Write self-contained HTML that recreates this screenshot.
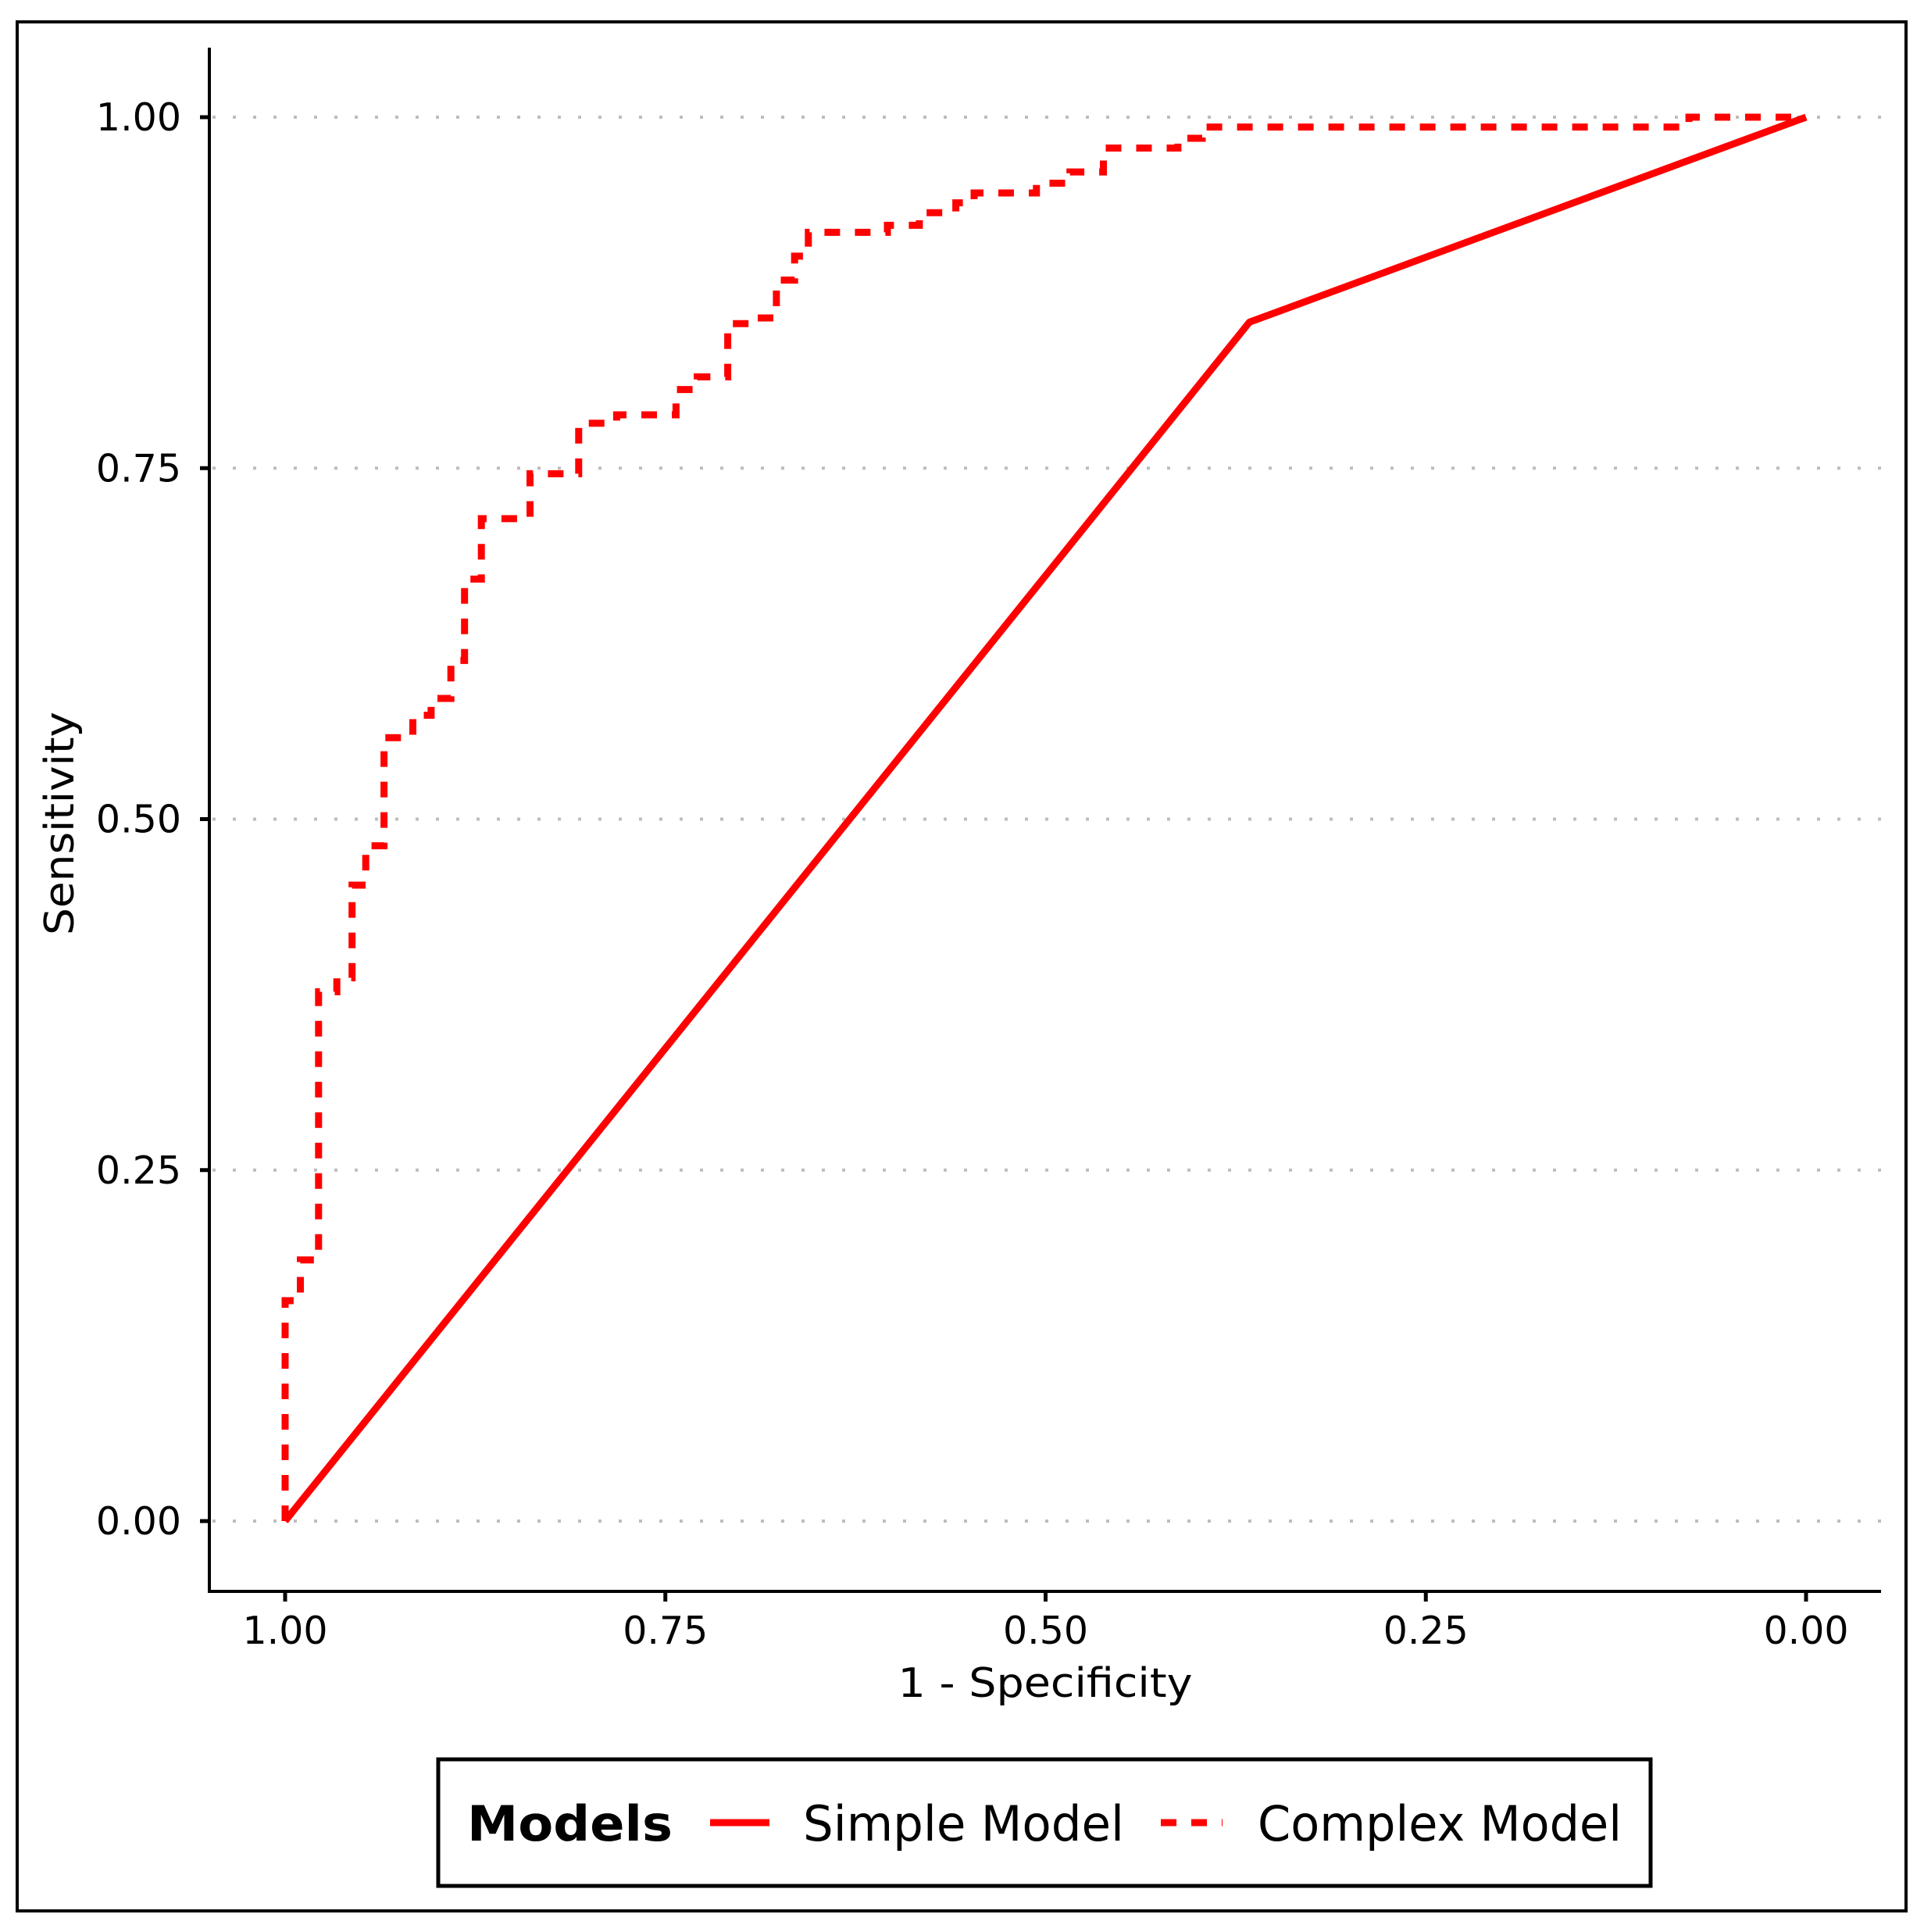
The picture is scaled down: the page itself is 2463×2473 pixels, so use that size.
<!DOCTYPE html>
<html><head><meta charset="utf-8"><style>
html,body{margin:0;padding:0;background:#fff;}
svg{display:block;}
text{font-family:"DejaVu Sans","Liberation Sans",sans-serif;fill:#000;}
</style></head><body>
<svg id="chart" width="2463" height="2473" viewBox="0 0 2463 2473" xmlns="http://www.w3.org/2000/svg">
<rect x="22" y="28" width="2418" height="2418" fill="#fff" stroke="#000" stroke-width="4"/>
<g id="grid"></g>
<g id="series"></g>
<line x1="268" y1="61" x2="268" y2="2039" stroke="#000" stroke-width="4"/>
<line x1="266" y1="2037" x2="2408" y2="2037" stroke="#000" stroke-width="4"/>
<g id="axes"></g>
<text x="1338" y="2172" font-size="52" text-anchor="middle" textLength="377" lengthAdjust="spacingAndGlyphs">1 - Specificity</text>
<text transform="translate(94,1054) rotate(-90)" font-size="52" text-anchor="middle" textLength="286" lengthAdjust="spacingAndGlyphs">Sensitivity</text>
<g>
<rect x="561" y="2252" width="1552" height="162" fill="#fff" stroke="#000" stroke-width="5"/>
<text x="598" y="2356" font-size="62" font-weight="bold" textLength="263" lengthAdjust="spacingAndGlyphs">Models</text>
<line x1="909" y1="2333" x2="985" y2="2333" stroke="#ff0000" stroke-width="9"/>
<text x="1028" y="2356" font-size="62" textLength="411" lengthAdjust="spacingAndGlyphs">Simple Model</text>
<line x1="1486" y1="2333" x2="1565" y2="2333" stroke="#ff0000" stroke-width="9" stroke-dasharray="20 19"/>
<text x="1610" y="2356" font-size="62" textLength="466" lengthAdjust="spacingAndGlyphs">Complex Model</text>
</g>
</svg>
<script>
const yTicks = [0, 0.25, 0.5, 0.75, 1];
const yTickLabels = ["0.00", "0.25", "0.50", "0.75", "1.00"];
const xTicks = [1, 0.75, 0.5, 0.25, 0];
const xTickLabels = ["1.00", "0.75", "0.50", "0.25", "0.00"];
const simpleSpec = [1, 0.366, 0];
const simpleSens = [0, 0.854, 1];
const complexSpec = [1,1,0.990,0.990,0.978,0.978,0.966,0.966,0.956,0.956,0.947,0.947,0.935,0.935,0.916,0.916,0.904,0.904,0.891,0.891,0.882,0.882,0.871,0.871,0.839,0.839,0.807,0.807,0.782,0.782,0.743,0.743,0.729,0.729,0.709,0.709,0.691,0.691,0.677,0.677,0.665,0.665,0.656,0.656,0.604,0.604,0.583,0.583,0.559,0.559,0.547,0.547,0.506,0.506,0.484,0.484,0.462,0.462,0.413,0.413,0.397,0.397,0.077,0.077,0];
const complexSens = [0,0.157,0.157,0.186,0.186,0.377,0.377,0.387,0.387,0.453,0.453,0.481,0.481,0.558,0.558,0.574,0.574,0.586,0.586,0.613,0.613,0.671,0.671,0.714,0.714,0.746,0.746,0.782,0.782,0.788,0.788,0.806,0.806,0.815,0.815,0.853,0.853,0.857,0.857,0.884,0.884,0.901,0.901,0.918,0.918,0.923,0.923,0.932,0.932,0.939,0.939,0.946,0.946,0.953,0.953,0.961,0.961,0.978,0.978,0.985,0.985,0.993,0.993,1,1];

const NS = "http://www.w3.org/2000/svg";
const X0 = 2312, X1 = 365;
const Y0 = 1947, Y1 = 150;
function sx(v){ return X0 + (X1 - X0) * v; }
function sy(v){ return Y0 + (Y1 - Y0) * v; }
function mk(tag, attrs, parent){
  const el = document.createElementNS(NS, tag);
  for (const k in attrs) el.setAttribute(k, attrs[k]);
  parent.appendChild(el);
  return el;
}
const grid = document.getElementById('grid');
const axes = document.getElementById('axes');
const series = document.getElementById('series');

yTicks.forEach((t, i) => {
  const g = mk('line', {x1: 272, x2: 2408, y1: sy(t), y2: sy(t), stroke: '#bdbdbd', 'stroke-width': 4, 'stroke-dasharray': '4 22'}, grid);
  
  
  const tk = mk('line', {x1: 256, x2: 268, y1: sy(t), y2: sy(t), stroke: '#000', 'stroke-width': 5}, axes);
  
  
  const lb = mk('text', {x: 232, y: sy(t) + 17, 'font-size': 49, 'text-anchor': 'end'}, axes);
  lb.textContent = yTickLabels[i];
  
  
});
xTicks.forEach((t, i) => {
  const tk = mk('line', {x1: sx(t), x2: sx(t), y1: 2037, y2: 2050, stroke: '#000', 'stroke-width': 5}, axes);
  
  
  const lb = mk('text', {x: sx(t), y: 2104, 'font-size': 49, 'text-anchor': 'middle'}, axes);
  lb.textContent = xTickLabels[i];
  
  
});
function pts(xs, ys){ return xs.map((v, i) => sx(v).toFixed(1) + ',' + sy(ys[i]).toFixed(1)).join(' '); }
const simple = mk('polyline', {points: pts(simpleSpec, simpleSens), fill: 'none', stroke: '#ff0000', 'stroke-width': 9, 'stroke-linejoin': 'round'}, series);


const complex = mk('polyline', {points: pts(complexSpec, complexSens), fill: 'none', stroke: '#ff0000', 'stroke-width': 9, 'stroke-dasharray': '20 19'}, series);


</script>
</body></html>
